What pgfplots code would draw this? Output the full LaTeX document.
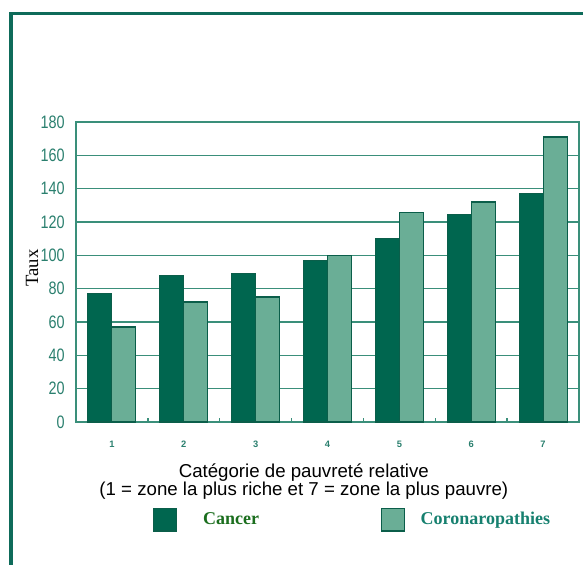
\documentclass[border=0pt]{standalone}
\usepackage{graphicx}
\usepackage{fontspec}
\setmainfont{Liberation Serif}
\setsansfont{Liberation Sans}
\usepackage{pgfplots}
\pgfplotsset{compat=1.18}
\definecolor{darkbar}{HTML}{00664F}
\definecolor{lightbar}{HTML}{6AAE96}
\definecolor{barline}{HTML}{0B5E4A}
\definecolor{gridteal}{HTML}{3A8F7A}
\definecolor{ticklab}{HTML}{2A7F6E}
\definecolor{framecol}{HTML}{0E6B5A}
\definecolor{cancertxt}{HTML}{1B6E1E}
\definecolor{corotxt}{HTML}{16806F}
\begin{document}
\begin{tikzpicture}
\useasboundingbox (-57pt,-107.25pt) rectangle (380.25pt,316.5pt);
\draw[color=framecol, line width=2.6pt] (-48.9pt,-110pt) -- (-48.9pt,306.2pt) -- (383pt,306.2pt);
\begin{axis}[
  axis on top=false,
  at={(0pt,0pt)}, anchor=south west,
  scale only axis, width=377.25pt, height=225pt,
  xmin=0.5, xmax=7.5, ymin=0, ymax=180,
  ybar=0pt, bar width=18pt,
  xtick={1,...,7}, minor xtick={1.5,2.5,...,6.5},
  ytick={0,20,...,180},
  major tick length=0pt, minor tick length=3pt,
  tick align=inside, xtick pos=bottom, ytick pos=left,
  every tick/.style={color=gridteal, line width=1pt},
  ymajorgrids, major grid style={color=gridteal, line width=1pt},
  axis line style={color=gridteal, line width=1pt},
  yticklabel={\scalebox{0.8}[1]{\pgfmathprintnumber{\tick}}},
  yticklabel style={font=\sffamily\fontsize{13.5}{13.5}\selectfont, color=ticklab, xshift=-5pt},
  xticklabel style={font=\sffamily\bfseries\fontsize{7}{7}\selectfont, color=ticklab, yshift=-11pt},
  /pgf/number format/assume math mode=true,
  ylabel={Taux},
  ylabel style={at={(axis description cs:-0.0875,0.513)}, anchor=center, font=\rmfamily\fontsize{14}{14}\selectfont, color=black},
  xlabel={Catégorie de pauvreté relative\\(1 = zone la plus riche et 7 = zone la plus pauvre)},
  xlabel style={at={(axis description cs:0.453,-0.124)}, anchor=north, align=center, font=\sffamily\fontsize{14}{13.5}\selectfont, color=black},
  legend columns=2,
  legend style={draw=none, fill=none, at={(axis description cs:0.1525,-0.325)}, anchor=west, inner sep=0pt,
    /tikz/column 1/.style={column sep=17.5pt},
    /tikz/column 2/.style={column sep=89.25pt},
    /tikz/column 3/.style={column sep=10pt},
    font=\rmfamily\bfseries\fontsize{13.5}{13.5}\selectfont},
  legend image code/.code={\draw[#1] (0pt,-8.6pt) rectangle (17.25pt,8.6pt);},
]
\addplot[fill=darkbar, draw=barline, line width=0.8pt] coordinates {(1,77) (2,88) (3,89) (4,97) (5,110) (6,124.5) (7,137)};
\addplot[fill=lightbar, draw=barline, line width=0.8pt] coordinates {(1,57) (2,72) (3,75) (4,100) (5,125.5) (6,132) (7,171)};
\addlegendentry{\textcolor{cancertxt}{Cancer}}
\addlegendentry{\textcolor{corotxt}{Coronaropathies}}
\end{axis}
\end{tikzpicture}
\end{document}
